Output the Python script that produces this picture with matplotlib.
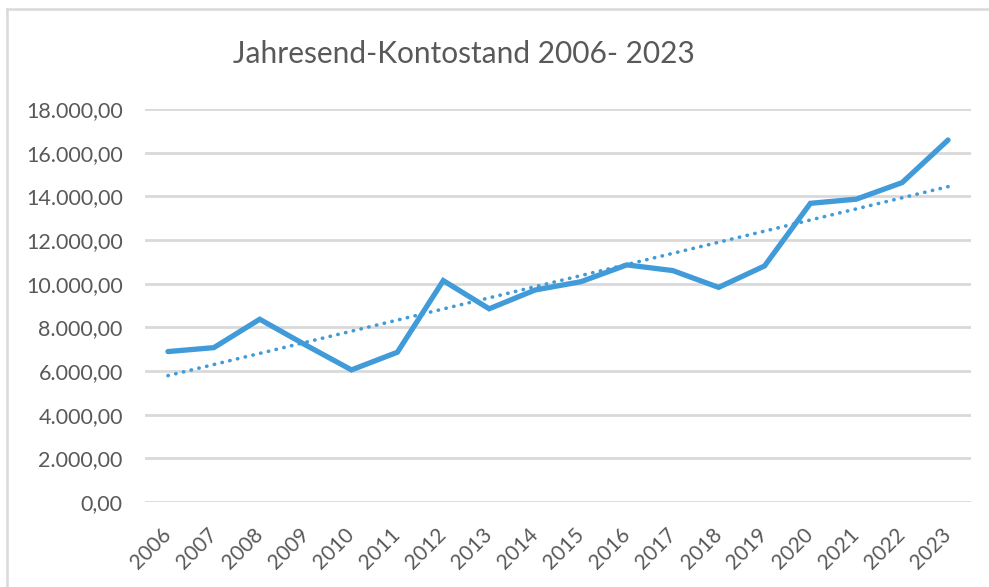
import matplotlib
matplotlib.use("Agg")
import matplotlib.pyplot as plt
import numpy as np
from matplotlib.lines import Line2D

years = ["2006", "2007", "2008", "2009", "2010", "2011", "2012", "2013", "2014",
         "2015", "2016", "2017", "2018", "2019", "2020", "2021", "2022", "2023"]
balance = [6890, 7070, 8370, 7190, 6050, 6860, 10140, 8850, 9710,
           10090, 10860, 10600, 9830, 10810, 13680, 13870, 14630, 16580]
yticks = [0, 2000, 4000, 6000, 8000, 10000, 12000, 14000, 16000, 18000]
title = "Jahresend-Kontostand 2006- 2023"

TEXT = "#595959"
BLUE = "#419bd9"
GRID = "#d9d9d9"
FONT = "Lato"

fig = plt.figure(figsize=(9.89, 5.87), dpi=100)
ax = fig.add_axes([145/989, 1-502/587, (971-145)/989, (502-109)/587])

x = np.arange(len(years))
ax.plot(x, balance, color=BLUE, lw=3.8, solid_joinstyle="miter", solid_capstyle="round", zorder=3)
coef = np.polyfit(x, balance, 1)
ax.plot(x, np.polyval(coef, x), color=BLUE, lw=2.6, linestyle=(0, (0.1, 2.1)),
        dash_capstyle="round", zorder=2)

ax.set_xlim(-0.5, len(years) - 0.5)
ax.set_ylim(0, 18000)
ax.set_yticks(yticks)
ax.set_yticklabels([f"{v:,.2f}".replace(",", "X").replace(".", ",").replace("X", ".") for v in yticks],
                   fontsize=15.5, color=TEXT, family=FONT)
ax.set_xticks(x)
ax.set_xticklabels(years, fontsize=15, color=TEXT, family=FONT, rotation=45,
                   ha="right", va="center", rotation_mode="anchor")
ax.tick_params(axis="x", length=0, pad=21)
ax.tick_params(axis="y", length=0, pad=16)
ax.grid(axis="y", color=GRID, lw=2)
ax.set_axisbelow(True)
for s in ax.spines.values():
    s.set_visible(False)

fig.text(464/989, 1-54/587, title, ha="center", va="center", fontsize=21.5, color=TEXT, family=FONT)

# chart border (top and left visible)
fig.add_artist(Line2D([7/989, 1], [1-9/587, 1-9/587], transform=fig.transFigure, color=GRID, lw=1.8))
fig.add_artist(Line2D([7/989, 7/989], [0, 1-9/587], transform=fig.transFigure, color=GRID, lw=1.8))

fig.savefig("out.png", dpi=100)
